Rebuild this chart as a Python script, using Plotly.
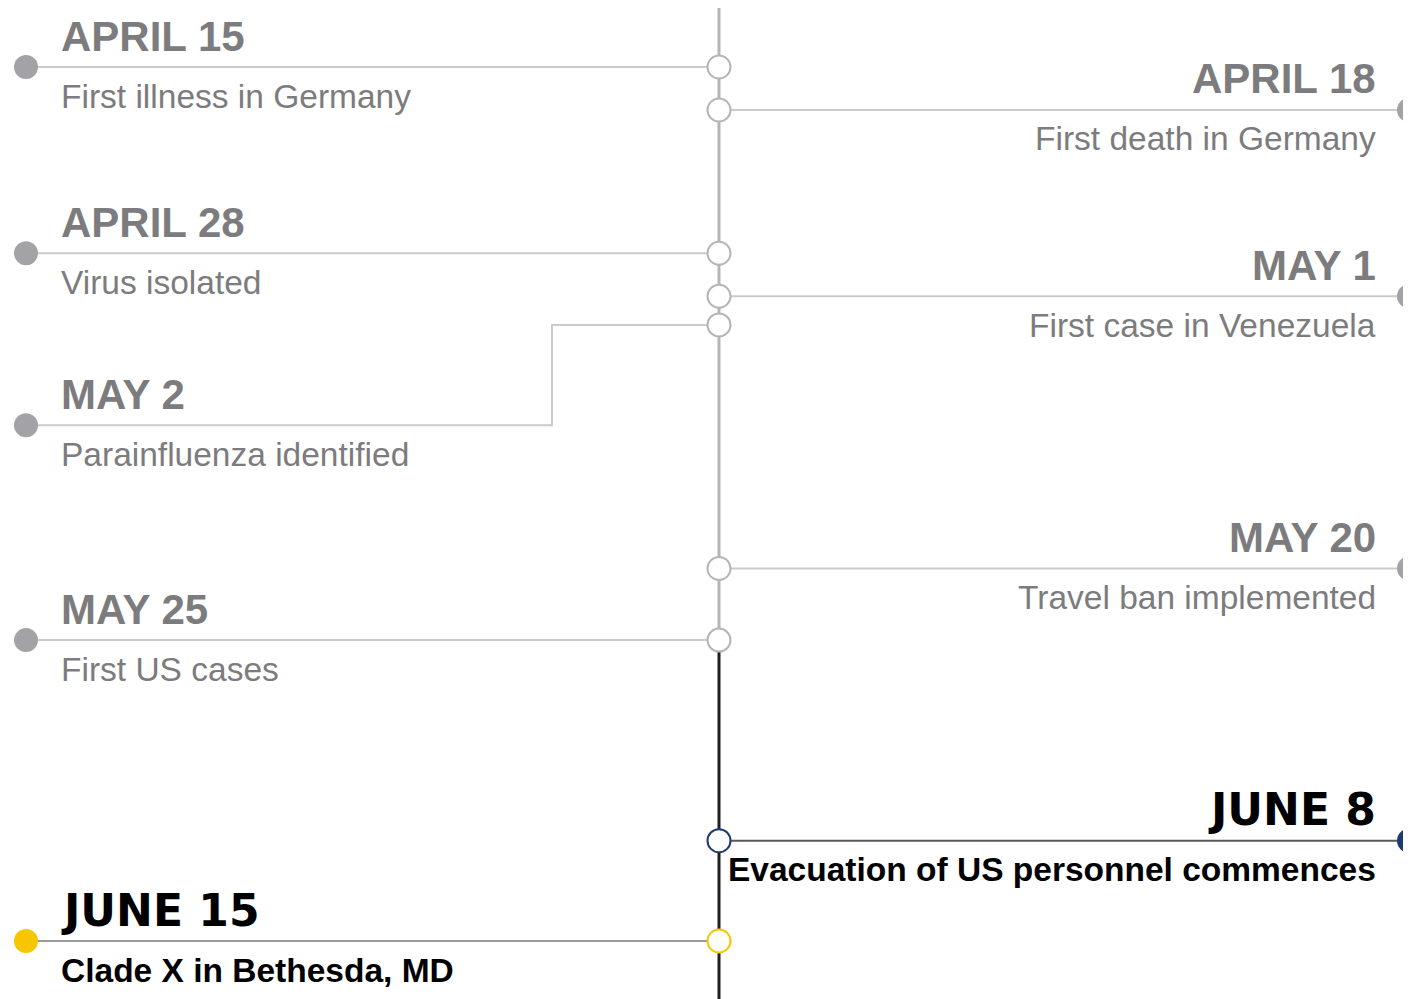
import plotly.graph_objects as go
import pandas as pd

# ---------------- data ----------------
dates = ["2018-04-15", "2018-04-18", "2018-04-28", "2018-05-01", "2018-05-02",
         "2018-05-20", "2018-05-25", "2018-06-08", "2018-06-15"]
titles = ["APRIL 15", "APRIL 18", "APRIL 28", "MAY 1", "MAY 2",
          "MAY 20", "MAY 25", "JUNE 8", "JUNE 15"]
descriptions = ["First illness in Germany", "First death in Germany", "Virus isolated",
                "First case in Venezuela", "Parainfluenza identified", "Travel ban implemented",
                "First US cases", "Evacuation of US personnel commences", "Clade X in Bethesda, MD"]
sides = ["left", "right", "left", "right", "left", "right", "left", "right", "left"]
highlight = ["none", "none", "none", "none", "none", "none", "none", "navy", "yellow"]

# ---------------- layout constants ----------------
PAGE_MARGIN = 8          # default body margin of the html page
W, H = 1411 - PAGE_MARGIN, 999 - PAGE_MARGIN
X_LEFT_DOT, X_AXIS, X_RIGHT_DOT = 26, 719, 1409
X_LEFT_TEXT, X_RIGHT_TEXT = 59, 1378
X_ELBOW = 552
DAY_PX = 14.328
FIRST_ROW_PX = 67
Y_TOP = pd.Timestamp(dates[0]) - pd.Timedelta(days=(FIRST_ROW_PX - PAGE_MARGIN) / DAY_PX)
Y_BOTTOM = Y_TOP + pd.Timedelta(days=H / DAY_PX)
LINE_START = Y_TOP
# events whose anchor on the axis / label row is displaced to avoid crowding (days)
anchor_shift = {"MAY 2": 1.0}
label_shift = {"MAY 2": 8.0}
BLACK_FROM = "MAY 25"

GRAY_TXT = "#7c7c7e"
GRAY_DOT = "#a3a3a7"
GRAY_LINE = "#cacaca"
AXIS_GRAY = "#b5b5b7"
NAVY = "#1f3a6e"
YELLOW = "#f7c600"

def shifted(d, days):
    return pd.Timestamp(d) + pd.Timedelta(days=days)

fig = go.Figure()

# central timeline
black_date = dates[titles.index(BLACK_FROM)]
fig.add_trace(go.Scatter(x=[X_AXIS, X_AXIS], y=[LINE_START, pd.Timestamp(black_date)],
                         mode="lines", line=dict(color=AXIS_GRAY, width=3),
                         hoverinfo="skip", showlegend=False))
fig.add_trace(go.Scatter(x=[X_AXIS, X_AXIS], y=[pd.Timestamp(black_date), Y_BOTTOM],
                         mode="lines", line=dict(color="#1e1e1e", width=3),
                         hoverinfo="skip", showlegend=False))

annotations = []
for d, t, desc, side, hl in zip(dates, titles, descriptions, sides, highlight):
    a_date = shifted(d, anchor_shift.get(t, 0))
    l_date = shifted(d, label_shift.get(t, 0))
    if hl == "navy":
        line_col, dot_col, ring_col, title_col, desc_col = "#5a5a5a", NAVY, NAVY, "#000000", "#000000"
    elif hl == "yellow":
        line_col, dot_col, ring_col, title_col, desc_col = "#9a9a9a", YELLOW, YELLOW, "#000000", "#000000"
    else:
        line_col, dot_col, ring_col, title_col, desc_col = GRAY_LINE, GRAY_DOT, AXIS_GRAY, GRAY_TXT, GRAY_TXT

    if side == "left":
        if a_date != l_date:
            xs = [X_AXIS, X_ELBOW, X_ELBOW, X_LEFT_DOT]
            ys = [a_date, a_date, l_date, l_date]
        else:
            xs = [X_AXIS, X_LEFT_DOT]
            ys = [a_date, l_date]
        dot_x = X_LEFT_DOT
        tx, anchor = X_LEFT_TEXT, "left"
    else:
        xs = [X_AXIS, X_RIGHT_DOT]
        ys = [a_date, l_date]
        dot_x = X_RIGHT_DOT
        tx, anchor = X_RIGHT_TEXT, "right"

    fig.add_trace(go.Scatter(x=xs, y=ys, mode="lines", line=dict(color=line_col, width=2),
                             hoverinfo="skip", showlegend=False))
    fig.add_trace(go.Scatter(x=[dot_x], y=[l_date], mode="markers",
                             marker=dict(size=24, color=dot_col, line=dict(width=0)),
                             hoverinfo="skip", showlegend=False))
    fig.add_trace(go.Scatter(x=[X_AXIS], y=[a_date], mode="markers",
                             marker=dict(size=23, color="white", line=dict(width=2, color=ring_col)),
                             hoverinfo="skip", showlegend=False))

    if hl == "none":
        tfont = dict(family="Liberation Sans, Arial, sans-serif", size=42, color=title_col, weight="bold")
        dfont = dict(family="Liberation Sans, Arial, sans-serif", size=33.5, color=desc_col)
    else:
        tfont = dict(family="DejaVu Sans, sans-serif", size=44, color=title_col, weight="bold")
        dfont = dict(family="Liberation Sans, Arial, sans-serif", size=33.5, color=desc_col, weight="bold")
    annotations.append(dict(x=tx, y=l_date, xref="x", yref="y", text=t, showarrow=False,
                            xanchor=anchor, yanchor="middle", yshift=31, font=tfont))
    annotations.append(dict(x=tx, y=l_date, xref="x", yref="y", text=desc, showarrow=False,
                            xanchor=anchor, yanchor="middle", yshift=-29, font=dfont))

fig.update_layout(
    width=W, height=H, margin=dict(l=0, r=0, t=0, b=0),
    paper_bgcolor="white", plot_bgcolor="white",
    xaxis=dict(range=[PAGE_MARGIN, PAGE_MARGIN + W], visible=False, fixedrange=True),
    yaxis=dict(type="date", range=[Y_BOTTOM, Y_TOP], visible=False, fixedrange=True),
    annotations=annotations, showlegend=False,
)

fig.write_html("out.html")
